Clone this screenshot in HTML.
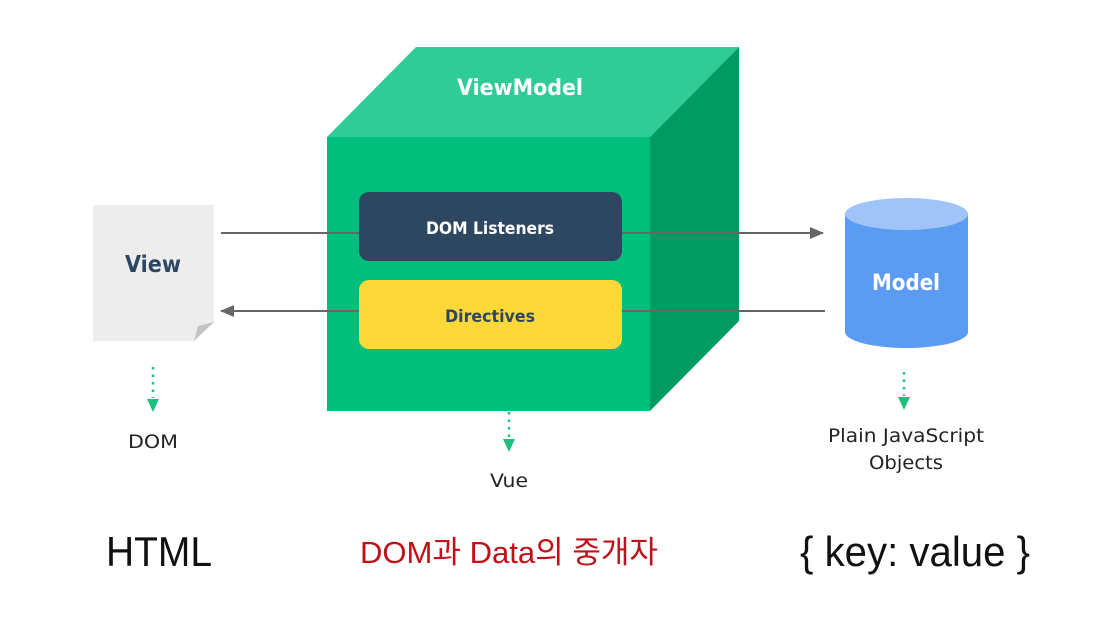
<!DOCTYPE html>
<html><head><meta charset="utf-8"><style>
html,body{margin:0;padding:0;background:#fff;}
svg{display:block;}
</style></head><body>
<svg width="1108" height="641" viewBox="0 0 1108 641" xmlns="http://www.w3.org/2000/svg">
<defs>
<marker id="ag" markerWidth="14" markerHeight="12" refX="13" refY="6" orient="auto" markerUnits="userSpaceOnUse">
<path d="M0,0 L14,6 L0,12 Z" fill="#666"/></marker>
</defs>
<polygon points="327,137 416,47 739,47 650,137" fill="#2fcc97"/>
<polygon points="650,137 739,47 739,321 650,411" fill="#009a63"/>
<rect x="327" y="137" width="323" height="274" fill="#00bf7c"/>
<text x="520" y="95" font-family="DejaVu Sans, sans-serif" font-weight="bold" font-size="22" fill="#fff" text-anchor="middle" textLength="126" lengthAdjust="spacingAndGlyphs">ViewModel</text>
<line x1="221" y1="233" x2="823" y2="233" stroke="#666" stroke-width="2" marker-end="url(#ag)"/>
<line x1="825" y1="311" x2="221" y2="311" stroke="#666" stroke-width="2" marker-end="url(#ag)"/>
<rect x="359" y="192" width="263" height="69" rx="10" fill="#2e4761"/>
<text x="490" y="234" font-family="DejaVu Sans, sans-serif" font-weight="bold" font-size="17" fill="#fff" text-anchor="middle" textLength="128" lengthAdjust="spacingAndGlyphs">DOM Listeners</text>
<rect x="359" y="280" width="263" height="69" rx="10" fill="#fdd838"/>
<text x="490" y="322" font-family="DejaVu Sans, sans-serif" font-weight="bold" font-size="17" fill="#2e4761" text-anchor="middle" textLength="90" lengthAdjust="spacingAndGlyphs">Directives</text>
<polygon points="93,205 214,205 214,322 194,341 93,341" fill="#ededed"/>
<polygon points="214,322 194,341 198,326" fill="#c4c4c4"/>
<text x="153" y="272" font-family="DejaVu Sans, sans-serif" font-weight="bold" font-size="23" fill="#2e4761" text-anchor="middle" textLength="56" lengthAdjust="spacingAndGlyphs">View</text>
<rect x="845" y="214" width="123" height="118" fill="#5b9cf2"/>
<ellipse cx="906.5" cy="332" rx="61.5" ry="16" fill="#5b9cf2"/>
<ellipse cx="906.5" cy="214" rx="61.5" ry="16" fill="#a0c4f7"/>
<text x="906" y="290" font-family="DejaVu Sans, sans-serif" font-weight="bold" font-size="22" fill="#fff" text-anchor="middle" textLength="68" lengthAdjust="spacingAndGlyphs">Model</text>
<g stroke="#1fbf80" stroke-width="2.5" stroke-dasharray="2.5,5" fill="none">
<line x1="153" y1="367" x2="153" y2="398"/>
<line x1="509" y1="412" x2="509" y2="438"/>
<line x1="904" y1="372" x2="904" y2="396"/>
</g>
<g fill="#1fbf80">
<polygon points="147,399 159,399 153,412"/>
<polygon points="503,439 515,439 509,452"/>
<polygon points="898,397 910,397 904,410"/>
</g>
<g font-family="DejaVu Sans, sans-serif" font-size="19" fill="#222" text-anchor="middle">
<text x="153" y="448" textLength="50" lengthAdjust="spacingAndGlyphs">DOM</text>
<text x="509" y="487" textLength="38" lengthAdjust="spacingAndGlyphs">Vue</text>
<text x="906" y="442" textLength="156" lengthAdjust="spacingAndGlyphs">Plain JavaScript</text>
<text x="906" y="469" textLength="74" lengthAdjust="spacingAndGlyphs">Objects</text>
</g>
<text x="106" y="566" font-family="Liberation Sans, sans-serif" font-size="42" fill="#111" textLength="106" lengthAdjust="spacingAndGlyphs">HTML</text>
<text x="360" y="563" font-family="Liberation Sans, 'Noto Sans CJK KR', sans-serif" font-size="31" fill="#c0101a" textLength="298" lengthAdjust="spacingAndGlyphs">DOM과 Data의 중개자</text>
<text x="800" y="566" font-family="Liberation Sans, sans-serif" font-size="42" fill="#111" textLength="230" lengthAdjust="spacingAndGlyphs">{ key: value }</text>
</svg>
</body></html>
